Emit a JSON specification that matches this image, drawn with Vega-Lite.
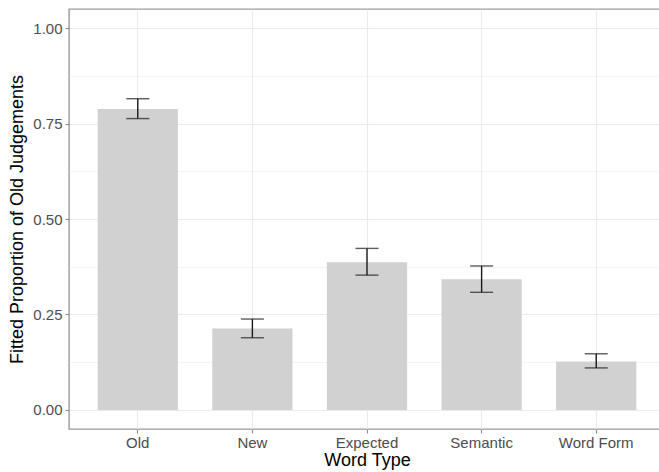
{
  "$schema": "https://vega.github.io/schema/vega-lite/v6.json",
  "autosize": {"type": "none"},
  "padding": {"left": 69, "top": 9, "right": 0, "bottom": 43},
  "width": 596,
  "height": 420,
  "background": "white",
  "config": {
    "font": "Liberation Sans",
    "view": {"stroke": "#9a9a9a", "strokeWidth": 1.4},
    "axis": {
      "domain": false,
      "gridColor": "#EBEBEB",
      "tickColor": "#8a8a8a",
      "tickSize": 4,
      "tickWidth": 1.1,
      "labelColor": "#4D4D4D",
      "labelFontSize": 15,
      "titleColor": "#000000",
      "titleFontSize": 18,
      "titleFontWeight": "normal"
    }
  },
  "data": {
    "values": [
      {"type": "Old", "p": 0.788, "lo": 0.763, "hi": 0.815},
      {"type": "New", "p": 0.213, "lo": 0.189, "hi": 0.238},
      {"type": "Expected", "p": 0.387, "lo": 0.353, "hi": 0.423},
      {"type": "Semantic", "p": 0.342, "lo": 0.308, "hi": 0.377},
      {"type": "Word Form", "p": 0.127, "lo": 0.110, "hi": 0.147}
    ]
  },
  "encoding": {
    "x": {
      "field": "type",
      "type": "nominal",
      "sort": ["Old", "New", "Expected", "Semantic", "Word Form"],
      "scale": {"paddingInner": 0.3, "paddingOuter": 0.25},
      "axis": {
        "title": "Word Type",
        "labelAngle": 0,
        "labelPadding": 2,
        "titlePadding": 1,
        "grid": true,
        "gridWidth": 1.1,
        "bandPosition": 0.5
      }
    }
  },
  "layer": [
    {
      "mark": {"type": "bar", "color": "#D1D1D1"},
      "encoding": {
        "y": {
          "field": "p",
          "type": "quantitative",
          "scale": {"domain": [-0.05, 1.05], "nice": false, "zero": false},
          "axis": {
            "title": "Fitted Proportion of Old Judgements",
            "values": [0, 0.125, 0.25, 0.375, 0.5, 0.625, 0.75, 0.875, 1],
            "labelExpr": "(datum.value * 4) % 1 == 0 ? format(datum.value, '.2f') : ''",
            "tickOpacity": {"condition": {"test": "(datum.value * 4) % 1 == 0", "value": 1}, "value": 0},
            "gridWidth": {"condition": {"test": "(datum.value * 4) % 1 == 0", "value": 1.1}, "value": 0.6},
            "labelPadding": 3,
            "titlePadding": 6
          }
        }
      }
    },
    {
      "mark": {"type": "rule", "color": "#1a1a1a", "strokeWidth": 1.4},
      "encoding": {
        "y": {"field": "lo", "type": "quantitative"},
        "y2": {"field": "hi"}
      }
    },
    {
      "mark": {"type": "tick", "color": "#1a1a1a", "thickness": 1.4, "size": 23},
      "encoding": {
        "y": {"field": "lo", "type": "quantitative"}
      }
    },
    {
      "mark": {"type": "tick", "color": "#1a1a1a", "thickness": 1.4, "size": 23},
      "encoding": {
        "y": {"field": "hi", "type": "quantitative"}
      }
    }
  ]
}
